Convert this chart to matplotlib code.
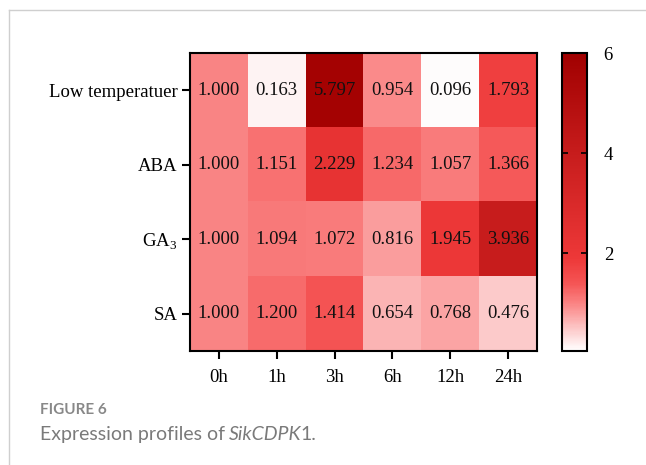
import numpy as np
import matplotlib
matplotlib.use("Agg")
import matplotlib.pyplot as plt
from matplotlib.colors import LinearSegmentedColormap, Normalize
from matplotlib.lines import Line2D

treatments = ["Low temperatuer", "ABA", "GA$_\\mathrm{3}$", "SA"]
times = ["0h", "1h", "3h", "6h", "12h", "24h"]
low_temp = [1.000, 0.163, 5.797, 0.954, 0.096, 1.793]
aba = [1.000, 1.151, 2.229, 1.234, 1.057, 1.366]
ga3 = [1.000, 1.094, 1.072, 0.816, 1.945, 3.936]
sa = [1.000, 1.200, 1.414, 0.654, 0.768, 0.476]

values = np.array([low_temp, aba, ga3, sa])

plt.rcParams["font.family"] = ["Liberation Serif", "DejaVu Serif"]
plt.rcParams["mathtext.fontset"] = "custom"
plt.rcParams["mathtext.rm"] = "Liberation Serif"

vmin, vmax = 0.05, 6.0
stops = [(0.05, (1.0, 1.0, 1.0)),
         (0.476, (0.99, 0.79, 0.79)),
         (1.0, (0.98, 0.51, 0.51)),
         (1.4, (0.96, 0.33, 0.33)),
         (1.9, (0.93, 0.22, 0.22)),
         (4.0, (0.78, 0.11, 0.11)),
         (6.0, (0.63, 0.0, 0.0))]
cmap = LinearSegmentedColormap.from_list(
    "reds", [((v - vmin) / (vmax - vmin), c) for v, c in stops])
norm = Normalize(vmin=vmin, vmax=vmax)

W, H = 646, 465
fig = plt.figure(figsize=(W / 100, H / 100), dpi=100)

# card frame on the left and top
fig.add_artist(Line2D([9 / W, 9 / W], [0, 1 - 10 / H], color="#cfcfcf", lw=1))
fig.add_artist(Line2D([9 / W, 1], [1 - 10 / H, 1 - 10 / H], color="#cfcfcf", lw=1))

ax = fig.add_axes([190 / W, 1 - 351 / H, 347 / W, 298 / H])
im = ax.imshow(values, cmap=cmap, norm=norm, aspect="auto")
for i in range(values.shape[0]):
    for j in range(values.shape[1]):
        ax.text(j, i, "%.3f" % values[i, j], ha="center", va="center",
                fontsize=13.5, color="#111111")
ax.set_xticks(range(len(times)))
ax.set_xticklabels(times)
ax.set_yticks(range(len(treatments)))
ax.set_yticklabels(treatments)
ax.tick_params(direction="out", length=6, width=1.5, labelsize=13.5, pad=3)
ax.tick_params(axis="x", pad=7)
for s in ax.spines.values():
    s.set_linewidth(1.5)

cax = fig.add_axes([562 / W, 1 - 351 / H, 25 / W, 298 / H])
cb = fig.colorbar(im, cax=cax)
cb.set_ticks([2, 4, 6])
cb.ax.tick_params(direction="in", left=True, right=True, length=4, width=1.2,
                  labelsize=13.5, pad=12)
cb.outline.set_linewidth(1.5)

sans = ["Lato", "DejaVu Sans"]
grey = "#7a7a7a"
fig.text(40 / W, 1 - 410 / H, "FIGURE 6", fontsize=11, color="#888888",
         family=sans, weight="bold", va="center")

# caption with italic gene name, pieces placed one after another
cap_y = 1 - 434 / H
x = 40 / W
for piece, style, gap in [("Expression profiles of", "normal", 4),
                          ("SikCDPK", "italic", -1), ("1.", "normal", 0)]:
    t = fig.text(x, cap_y, piece, fontsize=14, color=grey, family=sans,
                 style=style, va="center")
    fig.canvas.draw()
    bb = t.get_window_extent()
    x = (bb.x1 + gap) / W

fig.savefig("out.png", dpi=100)
